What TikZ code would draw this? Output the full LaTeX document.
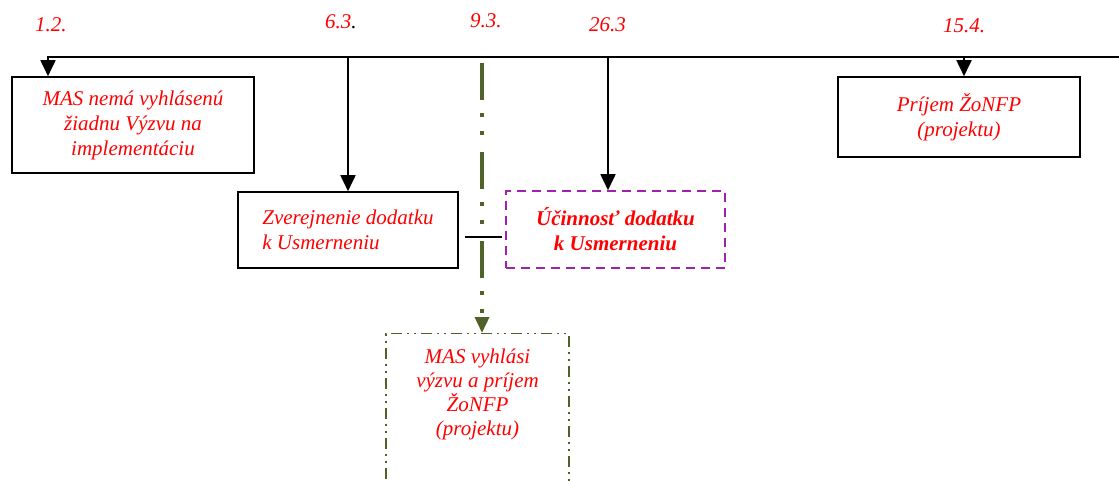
\documentclass[tikz,border=0pt]{standalone}
\usepackage{fontspec}
\setmainfont{Liberation Serif}
\usepackage{tikz}
\usetikzlibrary{positioning,arrows.meta}

\definecolor{olivova}{RGB}{79,98,40}
\definecolor{fialova}{RGB}{160,32,176}
\newcommand{\krokfont}{\fontsize{21}{25}\selectfont\itshape}

\begin{document}
\begin{tikzpicture}[x=1pt,y=-1pt]
\tikzstyle{datum}=[text=red,font=\krokfont,inner sep=0pt,anchor=base west]
\tikzstyle{krok}=[draw,line width=1.6pt,text=red,font=\krokfont,align=center,inner sep=0pt]
\tikzstyle{pfeil}=[line width=1.8pt,-{Triangle[width=15pt,length=16pt]}]

\useasboundingbox (0,0) rectangle (1119,481);
\clip (0,0) rectangle (1119,481);

%dates above the time line
\node[datum] (d12) at (35,32) {1.2.};
\node[datum] (d63) at (325,29) {6.3\textcolor{black}{.}};
\node[datum] (d93) at (470,28) {9.3.};
\node[datum] (d263) at (589,32) {26.3};
\node[datum] (d154) at (943,33) {15.4.};

%time line
\coordinate (t0) at (47,57);
\coordinate (tend) at (1119,57);
\coordinate (t12) at (48,57);
\coordinate (t63) at (348,57);
\coordinate (t263) at (608,57);
\coordinate (t154) at (964,57);
\draw[line width=1.8pt] (t0) -- (tend);

%boxes
\node[krok,minimum width=242,minimum height=96] (mas) at (133,125) {MAS nemá vyhlásenú\\ žiadnu Výzvu na\\ implementáciu};
\node[krok,align=left,minimum width=220,minimum height=76] (zver) at (348,230) {Zverejnenie dodatku\\ k Usmerneniu};
\node[krok,draw=fialova,dashed,dash pattern=on 9pt off 6pt,font=\krokfont\bfseries,minimum width=219,minimum height=77] (ucin) at (615.5,229.5) {Účinnosť dodatku\\ k Usmerneniu};
\node[krok,minimum width=242,minimum height=80] (prijem) at (959,117) {Príjem ŽoNFP\\ (projektu)};
\node[draw=olivova,line width=1.4pt,dash pattern=on 11pt off 5pt on 2pt off 5pt on 2pt off 5pt,inner sep=0pt,minimum width=183,minimum height=190,anchor=north] (vyzva) at (477.5,333) {};
\node[text=red,font=\fontsize{21}{24}\selectfont\itshape,align=center,inner sep=0pt,below=16pt of vyzva.north] (vyzvatext) {MAS vyhlási\\ výzvu a príjem\\ ŽoNFP\\ (projektu)};

%arrows from the time line
\draw[pfeil] (t12) -- (t12 |- mas.north);
\draw[pfeil] (t63) -- (t63 |- zver.north);
\draw[pfeil] (t263) -- (t263 |- ucin.north);
\draw[pfeil] (t154) -- (t154 |- prijem.north);

%dash dot line for 9.3.
\coordinate (o93) at (482,63);
\draw[olivova,line width=3.5pt,dash pattern=on 37pt off 13pt on 4pt off 14pt on 4pt off 17pt,-{Triangle[width=14pt,length=16pt]}] (o93) -- (o93 |- vyzva.north);

%short line across
\coordinate (kr1) at (465,237);
\coordinate (kr2) at (502,237);
\draw[line width=1.6pt] (kr1) -- (kr2);
\end{tikzpicture}
\end{document}
